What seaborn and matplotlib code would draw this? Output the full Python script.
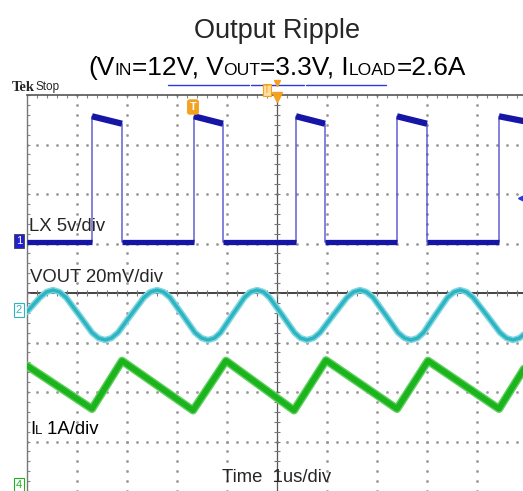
import numpy as np
import pandas as pd
import matplotlib
matplotlib.use("Agg")
import matplotlib.pyplot as plt
import seaborn as sns

# scope screen: 10 div x 8 div, 1 us/div
# LX switch node (channel 1), divisions on screen
lx_rise = [1.30, 3.34, 5.38, 7.40, 9.44]
lx_fall = [1.90, 3.92, 5.96, 8.00, 10.20]
lx_low = 5.03
lx_high_start = 7.57
lx_high_end = 7.42

# VOUT ripple (channel 2)
vout_t = [0.00, 0.26, 0.39, 0.52, 0.65, 0.78, 1.04, 1.30, 1.43, 1.56, 1.69, 1.82,
          2.08, 2.34, 2.47, 2.60, 2.73, 2.86, 3.11, 3.36, 3.49, 3.62, 3.75, 3.87,
          4.11, 4.35, 4.47, 4.60, 4.73, 4.85, 5.10, 5.35, 5.47, 5.60, 5.73, 5.86,
          6.13, 6.40, 6.53, 6.66, 6.79, 6.92, 7.17, 7.42, 7.55, 7.68, 7.81, 7.93,
          8.17, 8.41, 8.54, 8.66, 8.79, 8.92, 9.19, 9.46, 9.59, 9.72, 9.85, 9.98, 10.24]
vout_v = [3.62, 3.91, 4.02, 4.06, 4.02, 3.91, 3.56, 3.20, 3.09, 3.05, 3.09, 3.20,
          3.56, 3.91, 4.02, 4.06, 4.02, 3.91, 3.56, 3.20, 3.09, 3.05, 3.09, 3.20,
          3.56, 3.91, 4.02, 4.06, 4.02, 3.91, 3.56, 3.20, 3.09, 3.05, 3.09, 3.20,
          3.56, 3.91, 4.02, 4.06, 4.02, 3.91, 3.56, 3.20, 3.09, 3.05, 3.09, 3.20,
          3.56, 3.91, 4.02, 4.06, 4.02, 3.91, 3.56, 3.20, 3.09, 3.05, 3.09, 3.20, 3.56]

# inductor current (channel 4)
il_t = [0.00, 1.30, 1.90, 3.32, 3.98, 5.34, 5.98, 7.40, 8.02, 9.44, 10.04]
il_v = [2.53, 1.66, 2.63, 1.63, 2.63, 1.63, 2.64, 1.66, 2.63, 1.66, 2.63]

W, H = 523, 491
BLUE = "#1616a6"
CYAN = "#2cb4c2"
GREEN = "#1cb41c"
ORANGE = "#f4a020"

sns.set_theme(style="white")
plt.rcParams["font.family"] = ["Liberation Sans", "DejaVu Sans"]

fig = plt.figure(figsize=(W / 100, H / 100), dpi=100)
ax = fig.add_axes([27 / W, 0, 500 / W, 396 / H])
ax.set_xlim(0, 10)
ax.set_ylim(0, 8)
ax.set_xticks([])
ax.set_yticks([])
for side in ["right", "bottom"]:
    ax.spines[side].set_visible(False)
ax.spines["top"].set_color("#555555")
ax.spines["top"].set_linewidth(1.2)
ax.spines["left"].set_color("#777777")
ax.spines["left"].set_linewidth(1.0)

# graticule dots
for gx in [1, 2, 3, 4, 6, 7, 8, 9]:
    ys = np.arange(0, 8.01, 0.2)
    ax.plot([gx] * len(ys), ys, ls="none", marker="s", ms=0.9, color="#999999", zorder=1)
for gy in [1, 2, 3, 5, 6, 7]:
    xs = np.arange(0, 10.01, 0.2)
    ax.plot(xs, [gy] * len(xs), ls="none", marker="s", ms=0.9, color="#999999", zorder=1)
# centre lines with ticks
ax.axvline(5, color="#555555", lw=0.9, zorder=1)
ax.axhline(4, color="#111111", lw=1.1, zorder=1)
ys = np.arange(0, 8.01, 0.2)
ax.plot([5] * len(ys), ys, ls="none", marker="_", ms=5, mew=0.8, color="#777777", zorder=1)
xs = np.arange(0, 10.01, 0.2)
ax.plot(xs, [4] * len(xs), ls="none", marker="|", ms=5, mew=0.8, color="#777777", zorder=1)
ax.plot(xs, [8] * len(xs), ls="none", marker="|", ms=4, mew=0.8, color="#888888", zorder=1)
ax.plot([0] * len(ys), ys, ls="none", marker="_", ms=4, mew=0.8, color="#888888", zorder=1)

# LX trace: thin edges + thick levels
step_t, step_v = [0.0], [lx_low]
for r, f in zip(lx_rise, lx_fall):
    step_t += [r, r, f, f]
    step_v += [lx_low, lx_high_start, lx_high_end, lx_low]
sns.lineplot(x=step_t, y=step_v, ax=ax, color="#5050d0", lw=1.0,
             estimator=None, sort=False, zorder=3)
low_edges = [0.0] + lx_fall
for a, b in zip(low_edges, lx_rise):
    ax.plot([a, b], [lx_low, lx_low], color=BLUE, lw=3.8, solid_capstyle="butt", zorder=3)
for r, f in zip(lx_rise, lx_fall):
    ax.plot([r, f], [lx_high_start, lx_high_end], color=BLUE, lw=4.5,
            solid_capstyle="butt", zorder=3)

# VOUT trace
sns.lineplot(x=vout_t, y=vout_v, ax=ax, color="#7fd6de", lw=4.6,
             estimator=None, sort=False, zorder=3)
sns.lineplot(x=vout_t, y=vout_v, ax=ax, color=CYAN, lw=2.4,
             estimator=None, sort=False, zorder=3)

# IL trace
sns.lineplot(x=il_t, y=il_v, ax=ax, color="#60d060", lw=6.0,
             estimator=None, sort=False, zorder=3)
sns.lineplot(x=il_t, y=il_v, ax=ax, color=GREEN, lw=4.0,
             estimator=None, sort=False, zorder=3)

# record bar above the screen and trigger markers
for a, b in [(2.82, 4.43), (4.47, 5.53), (5.57, 7.18)]:
    ax.plot([a, b], [8.2, 8.2], color="#2a3ad8", lw=1.0, clip_on=False)
ax.plot([5], [7.96], marker="v", ms=7, color=ORANGE, clip_on=False, zorder=5)
ax.plot([5], [8.24], marker="v", ms=4, color=ORANGE, clip_on=False, zorder=5)
ax.plot([9.89], [5.92], marker="<", ms=6, color="#2a3ad8", clip_on=False, zorder=5)


def fx(px):
    return px / W


def fy(py):
    return 1 - py / H


def piece_text(x_px, y_px, pieces, color="black"):
    r = fig.canvas.get_renderer()
    x = x_px
    for s, size in pieces:
        t = fig.text(fx(x), fy(y_px), s, fontsize=size, va="baseline", ha="left", color=color)
        x += t.get_window_extent(renderer=r).width


fig.text(fx(277), fy(38), "Output Ripple", fontsize=19.5, ha="center", va="baseline")
piece_text(88, 75, [("(V", 18.9), ("IN", 12.6), ("=12V, V", 18.9), ("OUT", 12.6),
                    ("=3.3V, I", 18.9), ("LOAD", 12.6), ("=2.6A", 18.9)])

fig.text(fx(12), fy(91), "Tek", fontsize=10.5, fontweight="bold", family="Liberation Serif",
         va="baseline")
fig.text(fx(35), fy(90), "Stop", fontsize=8.5, va="baseline")

fig.text(fx(29), fy(231), "LX 5v/div", fontsize=13.3, va="baseline")
fig.text(fx(30), fy(282), "VOUT 20mV/div", fontsize=13.3, va="baseline")
piece_text(30, 434, [("I", 13.3), ("L", 9.5), (" 1A/div", 13.3)])
fig.text(fx(222), fy(482), "Time  1us/div", fontsize=13.3, va="baseline")

# channel markers
fig.text(fx(19), fy(241), "1", fontsize=8, color="white", ha="center", va="center",
         bbox=dict(boxstyle="square,pad=0.15", fc="#2020d0", ec="#404040", lw=0.6))
fig.text(fx(19), fy(310), "2", fontsize=8, color=CYAN, ha="center", va="center",
         bbox=dict(boxstyle="square,pad=0.15", fc="white", ec=CYAN, lw=0.8))
fig.text(fx(19), fy(485), "4", fontsize=8, color=GREEN, ha="center", va="center",
         bbox=dict(boxstyle="square,pad=0.15", fc="white", ec=GREEN, lw=0.8))
fig.text(fx(193), fy(107), "T", fontsize=8, color="white", ha="center", va="center",
         fontweight="bold",
         bbox=dict(boxstyle="round,pad=0.2", fc=ORANGE, ec=ORANGE, lw=0.6))
fig.text(fx(267), fy(90), "T", fontsize=7, color=ORANGE, ha="center", va="center",
         bbox=dict(boxstyle="square,pad=0.1", fc="#ffe0a0", ec=ORANGE, lw=0.8))

fig.savefig("out.png", dpi=100)
